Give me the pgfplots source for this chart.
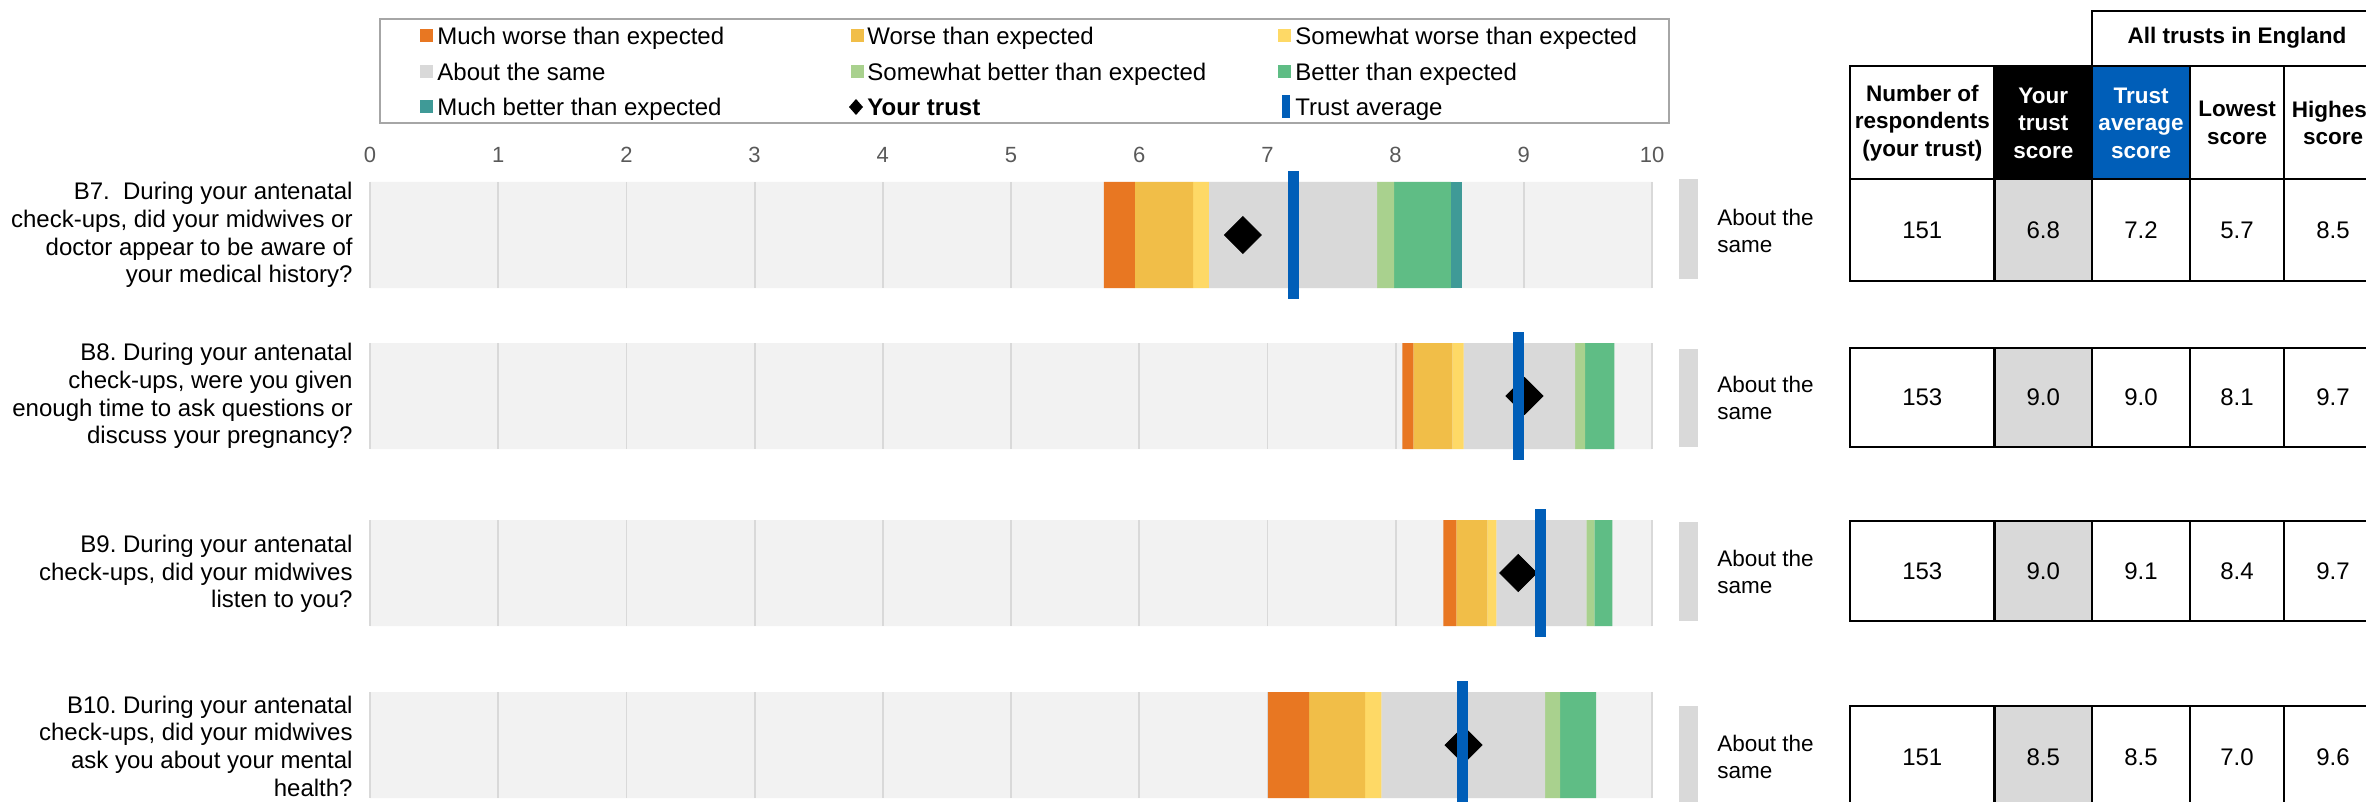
\documentclass[border=0pt]{standalone}
\usepackage{pgfplots}
\pgfplotsset{compat=1.18}
\usepackage{pgfplotstable}
\usepackage{fontspec}
\setmainfont{Liberation Sans}
\frenchspacing
\definecolor{mworse}{HTML}{E87722}
\definecolor{worse}{HTML}{F1BE48}
\definecolor{sworse}{HTML}{FED966}
\definecolor{same}{HTML}{D9D9D9}
\definecolor{sbetter}{HTML}{A9D18E}
\definecolor{better}{HTML}{5FBD85}
\definecolor{mbetter}{HTML}{3F9A97}
\definecolor{nhsblue}{HTML}{005EB8}
\definecolor{bg}{HTML}{F2F2F2}
\definecolor{gridc}{HTML}{D9D9D9}
\definecolor{ticktext}{HTML}{595959}
\definecolor{legframe}{HTML}{A6A6A6}

\pgfplotstableread{
y off mw w sw as sb b mb avg your
235 5.725 0.241 0.454 0.123 1.312 0.133 0.444 0.087 7.204 6.809
396 8.052 0.086 0.304 0.089 0.870 0.078 0.227 0 8.959 9.005
573 8.372 0.101 0.242 0.070 0.702 0.063 0.140 0 9.131 8.957
745 7.005 0.320 0.437 0.127 1.277 0.117 0.281 0 8.521 8.530
}\datatable

\pgfplotsset{rowaxis/.style={
  overlay,
  at={(185pt,-85pt)}, anchor=north west,
  scale only axis, width=641pt, height=316pt,
  xmin=0, xmax=10, ymin=170, ymax=802, y dir=reverse,
  axis line style={draw=none}, tick style={draw=none}, major tick length=0pt,
  ytick=\empty, clip=false,
}}

\begin{document}
\begin{tikzpicture}
\path[use as bounding box] (0pt,0pt) rectangle (1183pt,-401pt);

% background bars and grid lines
\begin{axis}[rowaxis, xtick=\empty]
\addplot[xbar, bar width=106, bar shift=0pt, fill=bg, draw=none] coordinates {(10,235) (10,396) (10,573) (10,745)};
\addplot[only marks, mark=|, mark size=26.5pt, mark options={draw=gridc, line width=0.9pt}] coordinates {
(0,235) (1,235) (2,235) (3,235) (4,235) (5,235) (6,235) (7,235) (8,235) (9,235) (10,235)
(0,396) (1,396) (2,396) (3,396) (4,396) (5,396) (6,396) (7,396) (8,396) (9,396) (10,396)
(0,573) (1,573) (2,573) (3,573) (4,573) (5,573) (6,573) (7,573) (8,573) (9,573) (10,573)
(0,745) (1,745) (2,745) (3,745) (4,745) (5,745) (6,745) (7,745) (8,745) (9,745) (10,745)
};
\end{axis}

% stacked coloured bands
\begin{axis}[rowaxis, xtick=\empty, xbar stacked, bar width=106,
  every axis plot/.append style={bar shift=0pt}]
\addplot[draw=none, fill=none] table[x=off, y=y]{\datatable};
\addplot[draw=none, fill=mworse] table[x=mw, y=y]{\datatable};
\addplot[draw=none, fill=worse] table[x=w, y=y]{\datatable};
\addplot[draw=none, fill=sworse] table[x=sw, y=y]{\datatable};
\addplot[draw=none, fill=same] table[x=as, y=y]{\datatable};
\addplot[draw=none, fill=sbetter] table[x=sb, y=y]{\datatable};
\addplot[draw=none, fill=better] table[x=b, y=y]{\datatable};
\addplot[draw=none, fill=mbetter] table[x=mb, y=y]{\datatable};
\end{axis}

% your trust and trust average, tick labels
\begin{axis}[rowaxis, xtick={0,1,2,3,4,5,6,7,8,9,10}, xticklabel pos=upper,
  /pgf/number format/assume math mode=true,
  xticklabel style={font=\fontsize{11}{11}\selectfont, text=ticktext, anchor=base, yshift=3.5pt}]
\addplot[only marks, mark=square*, mark size=6.54pt, mark options={rotate=45, fill=black, draw=none}] table[x=your, y=y]{\datatable};
\addplot[only marks, mark=|, mark size=32pt, mark options={draw=nhsblue, line width=5.5pt}] table[x=avg, y=y]{\datatable};
\end{axis}

\begin{scope}[x=0.5pt, y=-0.5pt, overlay]
% question labels
\tikzset{qlab/.style={anchor=east, align=right, inner sep=0pt, font=\fontsize{12}{13.85}\selectfont}}
\node[qlab] at (353,235) {B7.\ \ During your antenatal\\check-ups, did your midwives or\\doctor appear to be aware of\\your medical history?};
\node[qlab] at (353,396) {B8. During your antenatal\\check-ups, were you given\\enough time to ask questions or\\discuss your pregnancy?};
\node[qlab] at (353,574) {B9. During your antenatal\\check-ups, did your midwives\\listen to you?};
\node[qlab] at (353,746) {B10. During your antenatal\\check-ups, did your midwives\\ask you about your mental\\health?};

% legend
\draw[legframe, line width=1pt] (380,19) rectangle (1669,123);
\tikzset{ltxt/.style={anchor=base west, inner sep=0pt, font=\fontsize{12}{14}\selectfont}}
\fill[mworse] (420,29.5) rectangle (433,42.5);
\node[ltxt] at (437,44.6) {Much worse than expected};
\fill[worse] (851,29.5) rectangle (864,42.5);
\node[ltxt] at (867,44.6) {Worse than expected};
\fill[sworse] (1278,29.5) rectangle (1291,42.5);
\node[ltxt] at (1295,44.6) {Somewhat worse than expected};
\fill[same] (420,65.5) rectangle (433,78.5);
\node[ltxt] at (437,80.6) {About the same};
\fill[sbetter] (851,65.5) rectangle (864,78.5);
\node[ltxt] at (867,80.6) {Somewhat better than expected};
\fill[better] (1278,65.5) rectangle (1291,78.5);
\node[ltxt] at (1295,80.6) {Better than expected};
\fill[mbetter] (420,100.5) rectangle (433,113.5);
\node[ltxt] at (437,115.6) {Much better than expected};
\fill[black] (856,99) -- (863,107) -- (856,115) -- (849,107) -- cycle;
\node[ltxt, font=\bfseries\fontsize{12}{14}\selectfont] at (867,115.6) {Your trust};
\fill[nhsblue] (1282,95) rectangle (1290,118);
\node[ltxt] at (1295,115.6) {Trust average};

% result indicator and text
\tikzset{res/.style={anchor=west, align=left, inner sep=0pt, font=\fontsize{11.25}{13.5}\selectfont}}
\fill[same] (1679,179) rectangle (1698,279);
\node[res] at (1717,231) {About the\\same};
\fill[same] (1679,349) rectangle (1698,447);
\node[res] at (1717,398) {About the\\same};
\fill[same] (1679,522) rectangle (1698,621);
\node[res] at (1717,572) {About the\\same};
\fill[same] (1679,706) rectangle (1698,808);
\node[res] at (1717,757) {About the\\same};

% table
\tikzset{tl/.style={line width=1.3pt, black},
  th/.style={align=center, inner sep=0pt, font=\bfseries\fontsize{11.25}{13.75}\selectfont},
  td/.style={inner sep=0pt, font=\fontsize{12}{14}\selectfont}}
\draw[tl] (2092,11) rectangle (2382,66);
\node[th] at (2237,38) {All trusts in England};
\fill[black] (1994.5,66) rectangle (2092,179);
\fill[nhsblue] (2092,66) rectangle (2190,179);
\draw[tl] (1850,66) rectangle (2382,179);
\foreach \xx in {1994.5,2092,2190,2284} {\draw[tl] (\xx,66) -- (\xx,179);}
\node[th] at (1922.25,123) {Number of\\respondents\\(your trust)};
\node[th, text=white] at (2043.25,123) {Your\\trust\\score};
\node[th, text=white] at (2141,123) {Trust\\average\\score};
\node[th] at (2237,123) {Lowest\\score};
\node[th] at (2333,123) {Highest\\score};

\foreach \top/\bot/\n/\ys/\avg/\lo/\hi in {179/281/151/6.8/7.2/5.7/8.5, 348/447/153/9.0/9.0/8.1/9.7, 521/621/153/9.0/9.1/8.4/9.7, 706/808/151/8.5/8.5/7.0/9.6} {
  \fill[same] (1994.5,\top) rectangle (2092,\bot);
  \draw[tl] (1850,\top) rectangle (2382,\bot);
  \foreach \xx in {1994.5,2092,2190,2284} {\draw[tl] (\xx,\top) -- (\xx,\bot);}
  \pgfmathsetmacro{\cy}{(\top+\bot)/2}
  \node[td] at (1922.25,\cy) {\n};
  \node[td] at (2043.25,\cy) {\ys};
  \node[td] at (2141,\cy) {\avg};
  \node[td] at (2237,\cy) {\lo};
  \node[td] at (2333,\cy) {\hi};
}
\end{scope}
\end{tikzpicture}
\end{document}
